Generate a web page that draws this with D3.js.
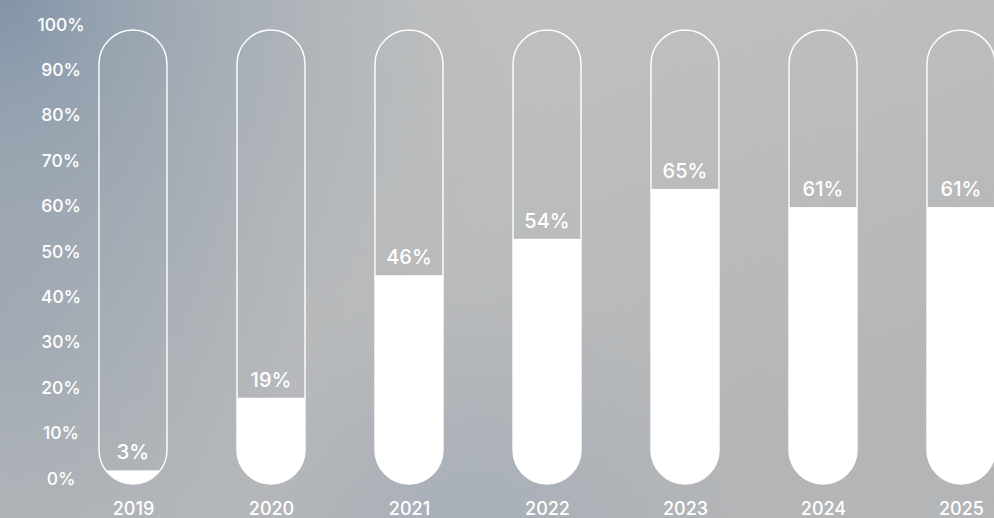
<!doctype html>
<html lang="en">
<head>
  <meta charset="UTF-8">
  <title>capsule bars</title>
  <style>
    * { padding: 0; margin: 0; }
    body { overflow: hidden; background: #bcbdbc; }
    text { font-family: Inter, "Noto Sans", sans-serif; fill: #ffffff; }
  </style>
  <script src="https://cdn.jsdelivr.net/npm/d3@7/dist/d3.min.js"></script>
</head>
<body>
  <svg width="994" height="518"></svg>
  <script>
    var years = ["2019", "2020", "2021", "2022", "2023", "2024", "2025"];
    var values = [3, 19, 46, 54, 65, 61, 61];
    var tickValues = [0, 10, 20, 30, 40, 50, 60, 70, 80, 90, 100];

    var width = 994, height = 518;
    var barWidth = 68;

    var svg = d3.select("svg");
    var defs = svg.append("defs");

    // background: grey, lighter top-right, blue haze top-left and bottom
    var lg = defs.append("linearGradient").attr("id", "base")
      .attr("x1", 0).attr("y1", 0).attr("x2", 0.6).attr("y2", 1);
    lg.append("stop").attr("offset", 0).attr("stop-color", "#c4c4c3");
    lg.append("stop").attr("offset", 1).attr("stop-color", "#b3b5b7");

    var rg = defs.append("radialGradient").attr("id", "haze")
      .attr("cx", 0).attr("cy", 0).attr("r", 560)
      .attr("gradientUnits", "userSpaceOnUse");
    rg.append("stop").attr("offset", 0).attr("stop-color", "#8093a7").attr("stop-opacity", 1);
    rg.append("stop").attr("offset", 0.5).attr("stop-color", "#9aa5b1").attr("stop-opacity", 0.55);
    rg.append("stop").attr("offset", 1).attr("stop-color", "#b8babc").attr("stop-opacity", 0);

    var rg2 = defs.append("radialGradient").attr("id", "haze2")
      .attr("cx", 0).attr("cy", 330).attr("r", 300)
      .attr("gradientUnits", "userSpaceOnUse");
    rg2.append("stop").attr("offset", 0).attr("stop-color", "#97a3b0").attr("stop-opacity", 0.8);
    rg2.append("stop").attr("offset", 1).attr("stop-color", "#97a3b0").attr("stop-opacity", 0);

    var rg3 = defs.append("radialGradient").attr("id", "haze3")
      .attr("cx", 470).attr("cy", 540).attr("r", 260)
      .attr("gradientUnits", "userSpaceOnUse");
    rg3.append("stop").attr("offset", 0).attr("stop-color", "#a4adb9").attr("stop-opacity", 0.8);
    rg3.append("stop").attr("offset", 1).attr("stop-color", "#a4adb9").attr("stop-opacity", 0);

    var noise = defs.append("filter").attr("id", "noise")
      .attr("x", 0).attr("y", 0).attr("width", "100%").attr("height", "100%");
    noise.append("feTurbulence").attr("type", "fractalNoise")
      .attr("baseFrequency", 0.8).attr("numOctaves", 2).attr("stitchTiles", "stitch");
    noise.append("feColorMatrix").attr("type", "saturate").attr("values", 0);

    svg.append("rect").attr("width", width).attr("height", height).attr("fill", "url(#base)");
    svg.append("rect").attr("width", width).attr("height", height).attr("fill", "url(#haze3)");
    svg.append("rect").attr("width", width).attr("height", height).attr("fill", "url(#haze2)");
    svg.append("rect").attr("width", width).attr("height", height).attr("fill", "url(#haze)");
    svg.append("rect").attr("width", width).attr("height", height)
      .attr("filter", "url(#noise)").attr("opacity", 0.08);

    var x = d3.scalePoint()
      .domain(years)
      .range([133, 961]);

    var y = d3.scaleLinear()
      .domain([0, 100])
      .range([484, 30]);

    // y axis labels
    var yAxis = d3.axisLeft(y)
      .tickValues(tickValues)
      .tickSize(0)
      .tickFormat(function (d) { return d + "%"; });

    var gy = svg.append("g").attr("transform", "translate(61,0)").call(yAxis);
    gy.select(".domain").remove();
    gy.selectAll("text")
      .attr("x", 0).attr("dy", 0)
      .attr("text-anchor", "middle")
      .attr("fill", "#ffffff")
      .style("font-family", "Inter, 'Noto Sans', sans-serif")
      .style("font-size", "17.5px")
      .style("font-weight", 500);

    // x axis labels
    var xAxis = d3.axisBottom(x).tickSize(0);
    var gx = svg.append("g").attr("transform", "translate(0,515)").call(xAxis);
    gx.select(".domain").remove();
    gx.selectAll("text")
      .attr("y", 0).attr("dy", 0)
      .attr("fill", "#ffffff")
      .style("font-family", "Inter, 'Noto Sans', sans-serif")
      .style("font-size", "18px")
      .style("font-weight", 500);

    var data = years.map(function (yr, i) { return { year: yr, value: values[i] }; });

    // clip paths for each capsule
    defs.selectAll("clipPath.cap")
      .data(data)
      .enter()
      .append("clipPath")
      .attr("class", "cap")
      .attr("id", function (d, i) { return "cap" + i; })
      .append("rect")
      .attr("x", function (d) { return x(d.year) - barWidth / 2; })
      .attr("y", y(100))
      .attr("width", barWidth)
      .attr("height", y(0) - y(100))
      .attr("rx", barWidth / 2);

    var bars = svg.append("g").selectAll("g")
      .data(data)
      .enter()
      .append("g");

    bars.append("rect")
      .attr("clip-path", function (d, i) { return "url(#cap" + i + ")"; })
      .attr("x", function (d) { return x(d.year) - barWidth / 2; })
      .attr("y", function (d) { return y(d.value); })
      .attr("width", barWidth)
      .attr("height", function (d) { return y(0) - y(d.value); })
      .attr("fill", "#ffffff");

    bars.append("rect")
      .attr("x", function (d) { return x(d.year) - barWidth / 2; })
      .attr("y", y(100))
      .attr("width", barWidth)
      .attr("height", y(0) - y(100))
      .attr("rx", barWidth / 2)
      .attr("fill", "none")
      .attr("stroke", "#ffffff")
      .attr("stroke-width", 1.4);

    bars.append("text")
      .attr("x", function (d) { return x(d.year); })
      .attr("y", function (d) { return y(d.value) - 11; })
      .attr("text-anchor", "middle")
      .style("font-size", "20px")
      .style("font-weight", 500)
      .text(function (d) { return d.value + "%"; });
  </script>
</body>
</html>
